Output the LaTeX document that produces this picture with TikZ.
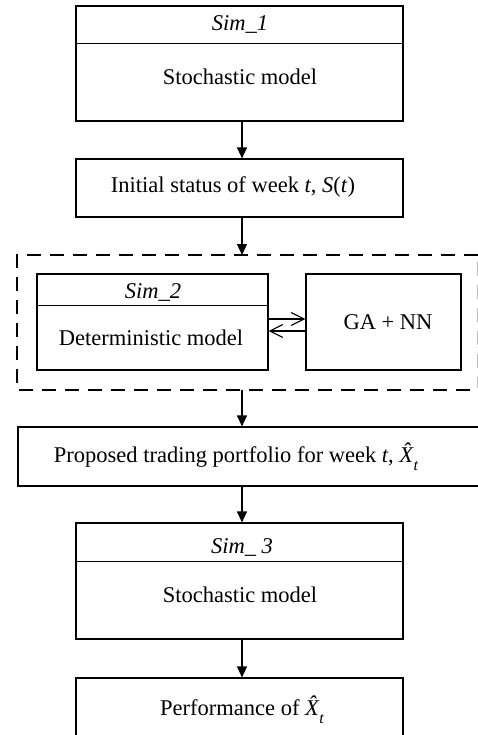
\documentclass[tikz,border=0pt]{standalone}
\usepackage{fontspec}
\setmainfont{Liberation Serif}
\usetikzlibrary{arrows.meta}
\newcommand{\hatX}{{\itshape X̂}\kern0.02em\raisebox{-0.38em}{\fontsize{16}{16}\selectfont\itshape t}}
\tikzset{
  box/.style={draw, line width=1.2pt, inner sep=0pt},
  divider/.style={line width=1.2pt},
  flow/.style={line width=1.2pt, -{Triangle[length=11pt,width=10pt]}},
  open/.style={line width=1.1pt, -{Straight Barb[length=13pt,width=13pt,line width=1.1pt]}},
  lab/.style={font=\fontsize{22.5}{24}\selectfont, inner sep=0pt},
  ilab/.style={font=\fontsize{22.5}{24}\selectfont\itshape, inner sep=0pt},
}
\begin{document}
\begin{tikzpicture}[x=1pt,y=-1pt]
\useasboundingbox (0,0) rectangle (478,735);
% Sim_1
\node[box, minimum width=327pt, minimum height=115pt] (s1) at (239.5,63.5) {};
\draw[divider] ([yshift=-38pt]s1.north west) -- ([yshift=-38pt]s1.north east);
\node[ilab] (s1h) at (240,25) {Sim\_1};
\node[lab] (s1b) at (240,77) {Stochastic model};
% Initial status
\node[box, minimum width=327pt, minimum height=58pt] (init) at (239.5,188) {};
\node[lab] (initt) at (233,187) {Initial status of week \textit{t}, \textit{S}(\textit{t})};
\draw[flow] ([xshift=2.5pt]s1.south) -- ([xshift=2.5pt]init.north);
% dashed group
\draw[line width=2.2pt, dash pattern=on 14pt off 9pt] (478,255) -- (17,255) -- (17,390) -- (478,390);
\draw[line width=1pt, black!25, dash pattern=on 14pt off 9pt] (477,262) -- (477,388);
\coordinate (dtop) at (242,255);
\coordinate (dbot) at (242,390);
\draw[flow] ([xshift=2.5pt]init.south) -- (dtop);
% Sim_2
\node[box, minimum width=231pt, minimum height=96pt] (s2) at (152.5,322) {};
\draw[divider] ([yshift=-32pt]s2.north west) -- ([yshift=-32pt]s2.north east);
\node[ilab] (s2h) at (153,293) {Sim\_2};
\node[lab] (s2b) at (151,338) {Deterministic model};
% GA + NN
\node[box, minimum width=155pt, minimum height=96pt] (ga) at (383.5,322) {};
\node[lab] (gat) at (388,322) {GA + NN};
\draw[open] ([yshift=3pt]s2.east) -- ([yshift=3pt]ga.west);
\draw[open] ([yshift=-9pt]ga.west) -- ([yshift=-9pt]s2.east);
% Proposed
\node[box, minimum width=472pt, minimum height=59pt] (prop) at (254,456.5) {};
\node[lab] (propt) at (236,457) {Proposed trading portfolio for week \textit{t}, \hatX};
\draw[flow] (dbot) -- (prop.north -| dbot);
% Sim_3
\node[box, minimum width=327pt, minimum height=116pt] (s3) at (239.5,581) {};
\draw[divider] ([yshift=-39pt]s3.north west) -- ([yshift=-39pt]s3.north east);
\node[ilab] (s3h) at (242,547) {Sim\_ 3};
\node[lab] (s3b) at (240,595) {Stochastic model};
\draw[flow] (prop.south -| dbot) -- ([xshift=2.5pt]s3.north);
% Performance
\node[box, minimum width=327pt, minimum height=67pt] (perf) at (239.5,711.5) {};
\node[lab] (perft) at (242,710) {Performance of \hatX};
\draw[flow] ([xshift=2.5pt]s3.south) -- ([xshift=2.5pt]perf.north);
\end{tikzpicture}
\end{document}
